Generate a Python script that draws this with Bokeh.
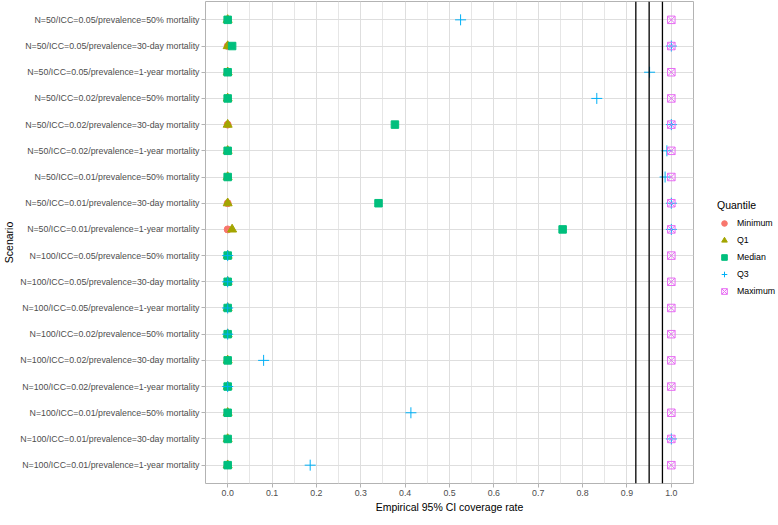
from bokeh.plotting import figure
from bokeh.layouts import row
from bokeh.models import FactorRange, Range1d, FixedTicker, Span, Legend, LegendItem, ColumnDataSource, NumeralTickFormatter
from bokeh.embed import file_html
from bokeh.resources import INLINE

# Scenarios, listed top to bottom as in the chart
scenarios = [
    "N=50/ICC=0.05/prevalence=50% mortality",
    "N=50/ICC=0.05/prevalence=30-day mortality",
    "N=50/ICC=0.05/prevalence=1-year mortality",
    "N=50/ICC=0.02/prevalence=50% mortality",
    "N=50/ICC=0.02/prevalence=30-day mortality",
    "N=50/ICC=0.02/prevalence=1-year mortality",
    "N=50/ICC=0.01/prevalence=50% mortality",
    "N=50/ICC=0.01/prevalence=30-day mortality",
    "N=50/ICC=0.01/prevalence=1-year mortality",
    "N=100/ICC=0.05/prevalence=50% mortality",
    "N=100/ICC=0.05/prevalence=30-day mortality",
    "N=100/ICC=0.05/prevalence=1-year mortality",
    "N=100/ICC=0.02/prevalence=50% mortality",
    "N=100/ICC=0.02/prevalence=30-day mortality",
    "N=100/ICC=0.02/prevalence=1-year mortality",
    "N=100/ICC=0.01/prevalence=50% mortality",
    "N=100/ICC=0.01/prevalence=30-day mortality",
    "N=100/ICC=0.01/prevalence=1-year mortality",
]

minimum = [0, 0, 0, 0, 0, 0, 0, 0, 0, 0, 0, 0, 0, 0, 0, 0, 0, 0]
q1 = [0, 0, 0, 0, 0, 0, 0, 0, 0.01, 0, 0, 0, 0, 0, 0, 0, 0, 0]
median = [0, 0.01, 0, 0, 0.377, 0, 0, 0.34, 0.755, 0, 0, 0, 0, 0, 0, 0, 0, 0]
q3 = [0.525, 1, 0.951, 0.832, 1, 0.99, 0.986, 1, 1, 0, 0, 0, 0, 0.081, 0, 0.413, 1, 0.186]
maximum = [1, 1, 1, 1, 1, 1, 1, 1, 1, 1, 1, 1, 1, 1, 1, 1, 1, 1]

quantile_names = ["Minimum", "Q1", "Median", "Q3", "Maximum"]
reference_lines = [0.92, 0.95, 0.98]
x_ticks = [0.0, 0.1, 0.2, 0.3, 0.4, 0.5, 0.6, 0.7, 0.8, 0.9, 1.0]
x_minor = [0.05, 0.15, 0.25, 0.35, 0.45, 0.55, 0.65, 0.75, 0.85, 0.95]

FONT = "Liberation Sans"
FRAME_W = 488
FRAME_H = 482
LEGEND_W = 80

p = figure(
    frame_width=FRAME_W, frame_height=FRAME_H,
    y_range=FactorRange(factors=scenarios[::-1], range_padding=0.2, range_padding_units="absolute"),
    x_range=Range1d(-0.05, 1.05),
    output_backend="svg", toolbar_location=None,
    min_border_top=1, min_border_left=10, min_border_right=6, min_border_bottom=0,
    x_axis_label="Empirical 95% CI coverage rate", y_axis_label="Scenario",
)

p.background_fill_color = "white"
p.outline_line_color = "#B3B3B3"
p.outline_line_width = 1

# grids
p.xgrid.ticker = FixedTicker(ticks=x_ticks, minor_ticks=x_minor)
p.xaxis.ticker = FixedTicker(ticks=x_ticks, minor_ticks=x_minor)
p.xaxis.formatter = NumeralTickFormatter(format="0.0")
for g in (p.xgrid, p.ygrid):
    g.grid_line_color = "#DEDEDE"
    g.grid_line_width = 1
p.xgrid.minor_grid_line_color = "#E6E6E6"
p.xgrid.minor_grid_line_width = 1

for ax in (p.xaxis, p.yaxis):
    ax.axis_line_color = None
    ax.major_tick_line_color = "#B3B3B3"
    ax.major_tick_out = 4
    ax.major_tick_in = 0
    ax.minor_tick_line_color = None
    ax.major_label_text_font = FONT
    ax.major_label_text_font_size = "8.8px"
    ax.major_label_text_color = "#4D4D4D"
    ax.major_label_standoff = 2
    ax.axis_label_text_font = FONT
    ax.axis_label_text_font_size = "10.5px"
    ax.axis_label_text_font_style = "normal"
    ax.axis_label_text_color = "black"
    ax.axis_label_standoff = 2

for v in reference_lines:
    p.add_layout(Span(location=v, dimension="height", line_color="black", line_width=1.3))

series = [minimum, q1, median, q3, maximum]
styles = [
    dict(marker="circle", size=7, fill_color="#F8766D", line_color="#F8766D"),
    dict(marker="triangle", size=9, fill_color="#A3A500", line_color="#A3A500"),
    dict(marker="square", size=7.5, fill_color="#00BF7D", line_color="#00BF7D"),
    dict(marker="cross", size=11, fill_color=None, line_color="#00B0F6", line_width=1),
    dict(marker="square_x", size=7.5, fill_color=None, line_color="#E76BF3", line_width=1),
]
sources = []
for name, vals, st in zip(quantile_names, series, styles):
    src = ColumnDataSource(dict(x=vals, y=scenarios))
    sources.append(src)
    p.scatter(x="x", y="y", source=src, **st)

# Narrow panel holding the legend; its x range lies outside the data, so
# its renderers only supply the legend glyphs.
LG_H = FRAME_H + 34
lg = figure(
    width=LEGEND_W, height=LG_H,
    x_range=Range1d(2, 3), y_range=FactorRange(factors=scenarios[::-1]),
    x_axis_location=None, y_axis_location=None,
    output_backend="svg", toolbar_location=None,
    min_border=0, outline_line_color=None,
)
lg.xgrid.visible = False
lg.ygrid.visible = False
items = []
for name, src, st in zip(quantile_names, sources, styles):
    r = lg.scatter(x="x", y="y", source=src, **st)
    items.append(LegendItem(label=name, renderers=[r]))

legend = Legend(
    items=items, title="Quantile", location=(18, 186),
    title_text_font=FONT, title_text_font_size="10.5px", title_text_font_style="normal",
    title_text_color="black",
    label_text_font=FONT, label_text_font_size="8.8px", label_text_color="black",
    glyph_width=14, glyph_height=14, label_height=14, label_standoff=6,
    spacing=3, padding=4, margin=0, border_line_color=None, background_fill_alpha=0,
)
lg.add_layout(legend, "center")

layout = row(p, lg)
open("out.html", "w").write(file_html(layout, INLINE))
